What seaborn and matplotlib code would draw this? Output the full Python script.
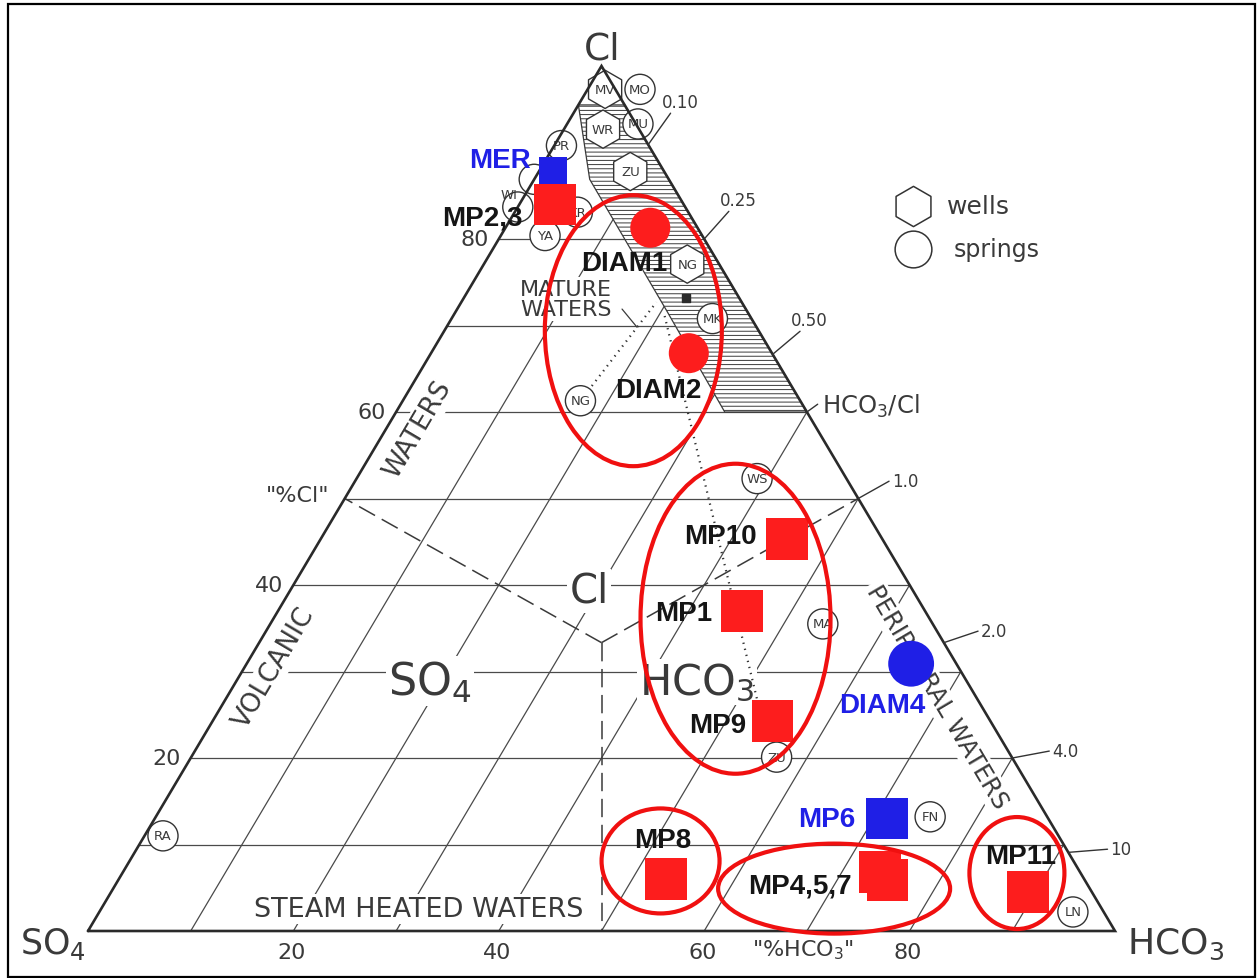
import matplotlib
matplotlib.use("Agg")
import matplotlib.pyplot as plt
import numpy as np
import pandas as pd
import seaborn as sns
from matplotlib.patches import Ellipse, Polygon, Rectangle

# ---- samples, composition in % (Cl / SO4 / HCO3) ----
sample_names = ["MER", "MP2,3", "DIAM1", "DIAM2", "MP10", "MP1", "MP9",
                "DIAM4", "MP6", "MP4", "MP5,7", "MP8", "MP11"]
sample_cl = [87.9, 84.0, 81.3, 66.8, 45.3, 37.0, 24.3, 30.9, 13.0, 6.8, 5.9, 6.0, 4.5]
sample_so4 = [10.8, 12.5, 4.6, 8.1, 9.3, 17.8, 21.2, 4.4, 15.7, 19.5, 19.2, 40.7, 6.2]
sample_hco3 = [1.3, 3.5, 14.1, 25.1, 45.4, 45.2, 54.5, 64.7, 71.3, 73.7, 74.9, 53.3, 89.3]
sample_group = ["blue", "red", "red", "red", "red", "red", "red",
                "blue", "blue", "red", "red", "red", "red"]
sample_shape = ["square", "square", "circle", "circle", "square", "square", "square",
                "circle", "square", "square", "square", "square", "square"]
sample_labels = ["MER", "MP2,3", "DIAM1", "DIAM2", "MP10", "MP1", "MP9",
                 "DIAM4", "MP6", "", "MP4,5,7", "MP8", "MP11"]

# ---- reference waters printed on the base diagram ----
site_names = ["MV", "MO", "WR", "MU", "PR", "ZU", "", "WI", "KR", "YA",
              "NG", "MK", "NG", "WS", "MA", "ZU", "FN", "LN", "RA"]
site_kind = ["well", "spring", "well", "spring", "spring", "well", "spring", "spring", "spring", "spring",
             "well", "spring", "spring", "spring", "spring", "spring", "spring", "spring", "spring"]
site_cl = [97.3, 97.3, 92.7, 93.3, 90.8, 87.8, 86.9, 83.7, 83.1, 80.4,
           77.1, 70.8, 61.3, 52.3, 35.5, 20.1, 13.2, 2.2, 11.0]
site_hco3 = [1.7, 5.1, 3.8, 6.9, 0.7, 8.9, 0.0, 0.0, 6.1, 4.3,
             19.8, 25.4, 17.3, 39.0, 53.8, 57.0, 75.4, 94.8, 1.8]

# HCO3/Cl ratio scale on the right side
ratio_values = [0.10, 0.25, 0.50, 1.0, 2.0, 4.0, 10.0]
ratio_labels = ["0.10", "0.25", "0.50", "1.0", "2.0", "4.0", "10"]

# mature waters band (Cl, HCO3)
band_cl = [95.5, 86.9, 71.6, 60.0, 60.0, 95.5]
band_hco3 = [0.0, 5.4, 20.6, 32.0, 40.0, 4.5]

# dotted trend lines (Cl, HCO3 at both ends)
dotted_cl = [(61.3, 72.7), (71.1, 21.6)]
dotted_hco3 = [(17.3, 19.0), (20.6, 55.4)]

# red ellipses round the sample groups (centre Cl, HCO3)
group_cl = [69.4, 36.1, 8.1, 4.9, 6.7]
group_hco3 = [18.4, 45.0, 51.7, 70.2, 87.1]

# ---- layout ----
W, H, DPI = 1259, 979, 100
PX_X, PX_Y = 10.27, 8.65          # pixels per % along x and y
RED, BLUE = "#fd1d1d", "#1f1fe6"
INK = "#3a3a3a"
ellipse_px = [(177, 271), (190, 310), (118, 105), (232, 90), (95, 112)]
label_offsets = {
    "MER": (-22, 11, "right"), "MP2,3": (-33, -13, "right"),
    "DIAM1": (-26, -35, "center"), "DIAM2": (-30, -37, "center"),
    "MP10": (-30, 3, "right"), "MP1": (-30, -2, "right"), "MP9": (-26, -4, "right"),
    "DIAM4": (-29, -41, "center"), "MP6": (-32, 0, "right"),
    "MP4,5,7": (-36, -6, "right"), "MP8": (-3, 39, "center"), "MP11": (-8, 36, "center"),
}
site_text_nudge = {"WI": (-9, 12)}


def tern_xy(cl, hco3):
    cl = np.asarray(cl, dtype=float)
    hco3 = np.asarray(hco3, dtype=float)
    return hco3 + cl / 2.0, cl


def fxy(px, py):
    """Reference pixel -> axes fraction (axes fill the figure)."""
    return px / W, 1 - py / H


sns.set_theme(style="white")
plt.rcParams["font.family"] = ["DejaVu Sans"]
plt.rcParams["hatch.linewidth"] = 0.7

fig = plt.figure(figsize=(W / DPI, H / DPI), dpi=DPI)
ax = fig.add_axes([0, 0, 1, 1])
ax.set_xlim(-88 / PX_X, (W - 88) / PX_X)
ax.set_ylim(-(H - 932) / PX_Y, 932 / PX_Y)
ax.axis("off")

stencil = dict(color=INK, family="DejaVu Sans")
white_box = dict(facecolor="white", edgecolor="none", pad=1.5)

# grid: constant Cl and constant HCO3 lines
for c in range(10, 90, 10):
    x, y = tern_xy([c, c], [0, 100 - c])
    ax.plot(x, y, color="#4a4a4a", lw=0.9, zorder=1)
for h in range(10, 100, 10):
    x, y = tern_xy([0, 100 - h], [h, h])
    ax.plot(x, y, color="#4a4a4a", lw=0.9, zorder=1)

# field boundaries from the centroid
third = 100 / 3
for end_cl, end_hco3 in [(50, 0), (50, 50), (0, 50)]:
    x, y = tern_xy([third, end_cl], [third, end_hco3])
    ax.plot(x, y, color="#3a3a3a", lw=1.1, ls=(0, (12, 5)), zorder=1.5)

# triangle outline
x, y = tern_xy([0, 0, 100, 0], [0, 100, 0, 0])
ax.plot(x, y, color="#2a2a2a", lw=1.9, zorder=4, solid_joinstyle="miter")

# mature waters band
bx, by = tern_xy(band_cl, band_hco3)
ax.add_patch(Polygon(np.column_stack([bx, by]), closed=True, facecolor="white",
                     edgecolor="#3a3a3a", hatch="----", lw=0.9, zorder=2))

# dotted lines
for cls, hcs in zip(dotted_cl, dotted_hco3):
    x, y = tern_xy(cls, hcs)
    ax.plot(x, y, color="#333333", lw=1.6, ls=(0, (0.6, 2.2)), zorder=2.5)

# leader for the MATURE WATERS label
x, y = tern_xy([71.9, 69.8], [16.05, 18.56])
ax.plot(x, y, color=INK, lw=0.9, zorder=2.5)

# small dark square in the band
x, y = tern_xy([73.2], [21.6])
ax.scatter(x, y, marker="s", s=40, color="#2a2a2a", zorder=3)

# reference sites
sites = pd.DataFrame({"name": site_names, "kind": site_kind, "cl": site_cl, "hco3": site_hco3})
sites["x"], sites["y"] = tern_xy(sites["cl"], sites["hco3"])
sns.scatterplot(data=sites, x="x", y="y", style="kind", markers={"well": "h", "spring": "o"},
                size="kind", sizes={"well": 760, "spring": 470}, color="white",
                edgecolor="#333333", linewidth=1.0, legend=False, ax=ax, zorder=3)
for _, r in sites.iterrows():
    if r["name"]:
        nx, ny = site_text_nudge.get(r["name"], (0, 0))
        ax.annotate(r["name"], (r["x"], r["y"]), xytext=(nx, ny), textcoords="offset pixels",
                    ha="center", va="center", fontsize=9.5, zorder=3.5, **stencil)

# HCO3/Cl ratio ticks
for r, lab in zip(ratio_values, ratio_labels):
    c = 100 / (1 + r)
    h = 100 - c
    x, y = tern_xy([c, c * 1.04], [h, h * 1.04])
    ax.plot(x, y, color="#333333", lw=1.0, zorder=4)
    if r < 0.9:
        ax.annotate(lab, (x[1], y[1]), xytext=(-9, 2), textcoords="offset pixels",
                    ha="left", va="bottom", fontsize=12, **stencil)
    else:
        ax.annotate(lab, (x[1], y[1]), xytext=(3, 0), textcoords="offset pixels",
                    ha="left", va="center", fontsize=12, **stencil)
x, y = tern_xy([60, 60 * 1.015], [40, 40 * 1.015])
ax.plot(x, y, color="#333333", lw=1.0, zorder=4)
ax.text(*fxy(822, 406), r"HCO$_3$/Cl", transform=ax.transAxes, ha="left", va="center",
        fontsize=17.5, **stencil)

# side tick labels
for v in [20, 40, 60, 80]:
    x, y = tern_xy([v], [0])
    ax.annotate(str(v), (x[0], y[0]), xytext=(-10, 0), textcoords="offset pixels",
                ha="right", va="center", fontsize=16, **stencil)
    x, y = tern_xy([0], [v])
    ax.annotate(str(v), (x[0], y[0]), xytext=(-2, -21), textcoords="offset pixels",
                ha="center", va="center", fontsize=16, **stencil)
ax.text(*fxy(298, 496), '"%Cl"', transform=ax.transAxes, ha="center", va="center",
        fontsize=16, **stencil)
ax.text(*fxy(803, 950), r'"%HCO$_3$"', transform=ax.transAxes, ha="center", va="center",
        fontsize=16, **stencil)

# vertex labels
ax.text(*fxy(602, 50), "Cl", transform=ax.transAxes, ha="center", va="center", fontsize=27, **stencil)
ax.text(*fxy(86, 944), r"SO$_4$", transform=ax.transAxes, ha="right", va="center", fontsize=25, **stencil)
ax.text(*fxy(1127, 944), r"HCO$_3$", transform=ax.transAxes, ha="left", va="center", fontsize=26, **stencil)

# field names
ax.text(*fxy(589, 592), "Cl", transform=ax.transAxes, ha="center", va="center",
        fontsize=29, bbox=white_box, zorder=2, **stencil)
ax.text(*fxy(430, 682), r"SO$_4$", transform=ax.transAxes, ha="center", va="center",
        fontsize=32, bbox=white_box, zorder=2, **stencil)
ax.text(*fxy(697, 683), r"HCO$_3$", transform=ax.transAxes, ha="center", va="center",
        fontsize=31, bbox=white_box, zorder=2, **stencil)
ax.text(*fxy(274, 668), "VOLCANIC", transform=ax.transAxes, ha="center", va="center",
        rotation=59.4, fontsize=19, bbox=white_box, zorder=2, **stencil)
ax.text(*fxy(418, 430), "WATERS", transform=ax.transAxes, ha="center", va="center",
        rotation=59.4, fontsize=19, bbox=white_box, zorder=2, **stencil)
ax.text(*fxy(937, 697), "PERIPHERAL WATERS", transform=ax.transAxes, ha="center", va="center",
        rotation=-59.4, fontsize=17.5, bbox=white_box, zorder=2, **stencil)
ax.text(*fxy(419, 910), "STEAM HEATED WATERS", transform=ax.transAxes, ha="center", va="center",
        fontsize=19.5, bbox=white_box, zorder=2, **stencil)
ax.text(*fxy(566, 300), "MATURE\nWATERS", transform=ax.transAxes, ha="center", va="center",
        fontsize=16, linespacing=0.95, bbox=white_box, zorder=2, **stencil)

# legend of the base diagram
ax.scatter(*fxy(913, 207), transform=ax.transAxes, marker="h", s=840, facecolor="white",
           edgecolor="#333333", linewidth=1.1, zorder=3)
ax.scatter(*fxy(913, 250), transform=ax.transAxes, marker="o", s=700, facecolor="white",
           edgecolor="#333333", linewidth=1.1, zorder=3)
ax.text(*fxy(947, 207), "wells", transform=ax.transAxes, ha="left", va="center", fontsize=18, **stencil)
ax.text(*fxy(954, 250), "springs", transform=ax.transAxes, ha="left", va="center", fontsize=17, **stencil)

# samples
df = pd.DataFrame({"name": sample_names, "cl": sample_cl, "so4": sample_so4,
                   "hco3": sample_hco3, "group": sample_group, "shape": sample_shape,
                   "label": sample_labels})
df["x"], df["y"] = tern_xy(df["cl"], df["hco3"])
marker_area = {n: (400 if n == "MER" else 1090 if n == "DIAM4" else 830 if s == "circle" else 900)
               for n, s in zip(sample_names, sample_shape)}
sns.scatterplot(data=df, x="x", y="y", hue="group", palette={"red": RED, "blue": BLUE},
                style="shape", markers={"square": "s", "circle": "o"},
                size="name", sizes=marker_area, linewidth=0, legend=False, ax=ax, zorder=5)

for _, r in df.iterrows():
    if not r["label"]:
        continue
    dx, dy, ha = label_offsets[r["label"]]
    ax.annotate(r["label"], (r["x"], r["y"]), xytext=(dx, dy), textcoords="offset pixels",
                ha=ha, va="center", fontsize=20, fontweight="bold", family="Liberation Sans",
                color=BLUE if r["group"] == "blue" else "#151515", zorder=7)

# red ellipses
ex, ey = tern_xy(group_cl, group_hco3)
for cx, cy, (w, h) in zip(ex, ey, ellipse_px):
    ax.add_patch(Ellipse((cx, cy), w / PX_X, h / PX_Y, fill=False, edgecolor="#f01010",
                         lw=3.0, zorder=6))

# outer frame
fig.patches.append(Rectangle((8 / W, 1 - 978 / H), (1255 - 8) / W, (978 - 5) / H,
                             transform=fig.transFigure, fill=False, edgecolor="black", lw=1.6))

fig.savefig("out.png", dpi=DPI)
plt.close(fig)
